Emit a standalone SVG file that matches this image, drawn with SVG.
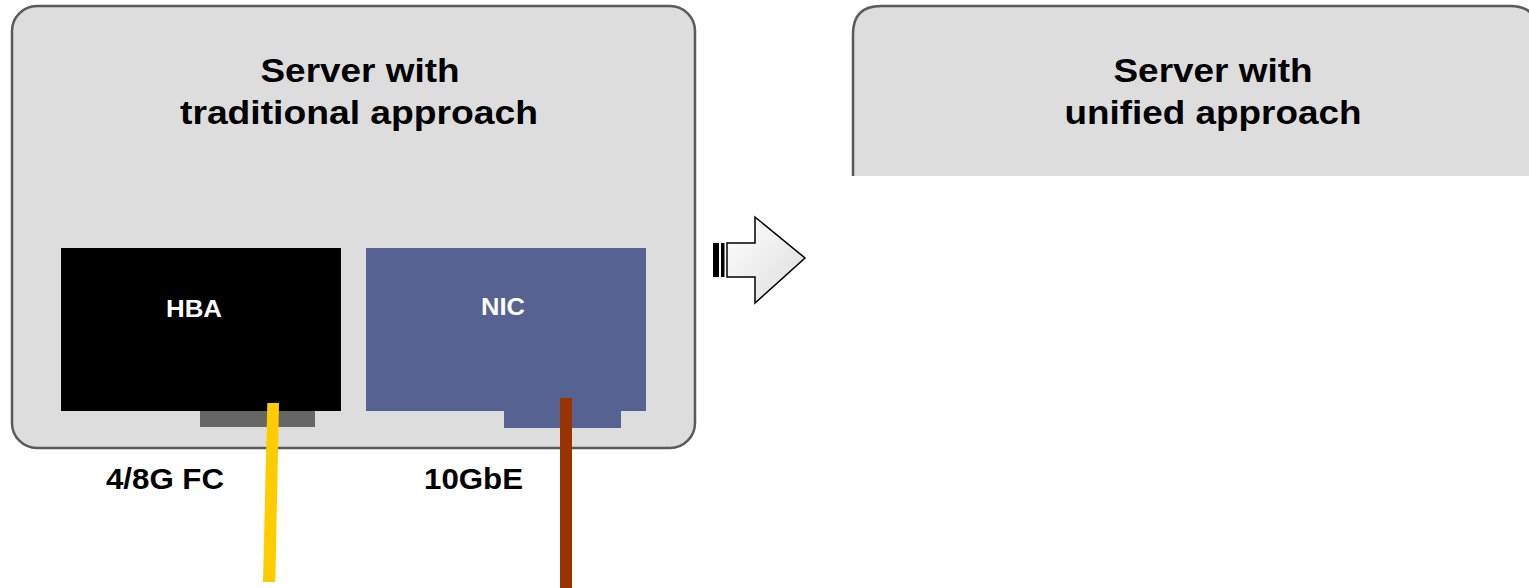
<svg xmlns="http://www.w3.org/2000/svg" width="1529" height="588" viewBox="0 0 1529 588">
  <style>
    .server { fill: #dddddd; stroke: #5a5a5a; stroke-width: 2.5; }
    .title { font-family: "Liberation Sans", Arial, sans-serif; font-weight: bold; font-size: 34px; fill: #000; text-anchor: middle; }
    .card { font-family: "Liberation Sans", Arial, sans-serif; font-weight: bold; font-size: 24px; fill: #ffffff; text-anchor: middle; }
    .label { font-family: "Liberation Sans", Arial, sans-serif; font-weight: bold; font-size: 29px; fill: #000; }
  </style>
  <defs>
    <linearGradient id="arrowGrad" x1="0" y1="0" x2="1" y2="1">
      <stop offset="0" stop-color="#ffffff"/>
      <stop offset="1" stop-color="#dcdcdc"/>
    </linearGradient>
  </defs>
  <rect width="1529" height="588" fill="#ffffff"/>

  <g id="server-traditional">
    <rect class="server" x="12" y="6" width="683" height="442" rx="25" ry="25"/>
    <text class="title" x="360" y="82" textLength="199" lengthAdjust="spacingAndGlyphs">Server with</text>
    <text class="title" x="359" y="124" textLength="358" lengthAdjust="spacingAndGlyphs">traditional approach</text>
  </g>

  <g id="hba">
    <rect x="200" y="411" width="115" height="16" fill="#666666"/>
    <rect x="61" y="248" width="280" height="163" fill="#000000"/>
    <text class="card" x="194" y="317" textLength="56" lengthAdjust="spacingAndGlyphs">HBA</text>
  </g>

  <g id="nic">
    <rect x="504" y="405" width="117" height="23" fill="#556292"/>
    <rect x="366" y="248" width="280" height="163" fill="#556292"/>
    <text class="card" x="503" y="315" textLength="44" lengthAdjust="spacingAndGlyphs">NIC</text>
  </g>

  <g id="server-unified">
    <path d="M853,176 V34 Q853,6 881,6 H1510 Q1538,6 1538,34 V176 Z" fill="#dddddd"/>
    <path d="M853,176 V34 Q853,6 881,6 H1510 Q1538,6 1538,34 V176" fill="none" stroke="#5a5a5a" stroke-width="2.5"/>
    <text class="title" x="1213" y="82" textLength="199" lengthAdjust="spacingAndGlyphs">Server with</text>
    <text class="title" x="1213" y="124" textLength="297" lengthAdjust="spacingAndGlyphs">unified approach</text>
  </g>

  <g id="transition-arrow">
    <rect x="713" y="243" width="6" height="34" fill="#000000"/>
    <rect x="721" y="243" width="3.5" height="34" fill="#000000"/>
    <path d="M727,243 H755 V217 L805,258 L755,303 V277 H727 Z" fill="url(#arrowGrad)" stroke="#000000" stroke-width="1.5" stroke-linejoin="miter"/>
  </g>

  <g id="labels">
    <text class="label" x="106" y="489" textLength="118" lengthAdjust="spacingAndGlyphs">4/8G FC</text>
    <text class="label" x="424" y="489" textLength="99" lengthAdjust="spacingAndGlyphs">10GbE</text>
  </g>

  <g id="connectors">
    <polygon points="267.3,403 279,403 275.3,582 263,582" fill="#ffcc00"/>
    <rect x="560" y="398" width="12" height="190" fill="#993300"/>
  </g>
</svg>
